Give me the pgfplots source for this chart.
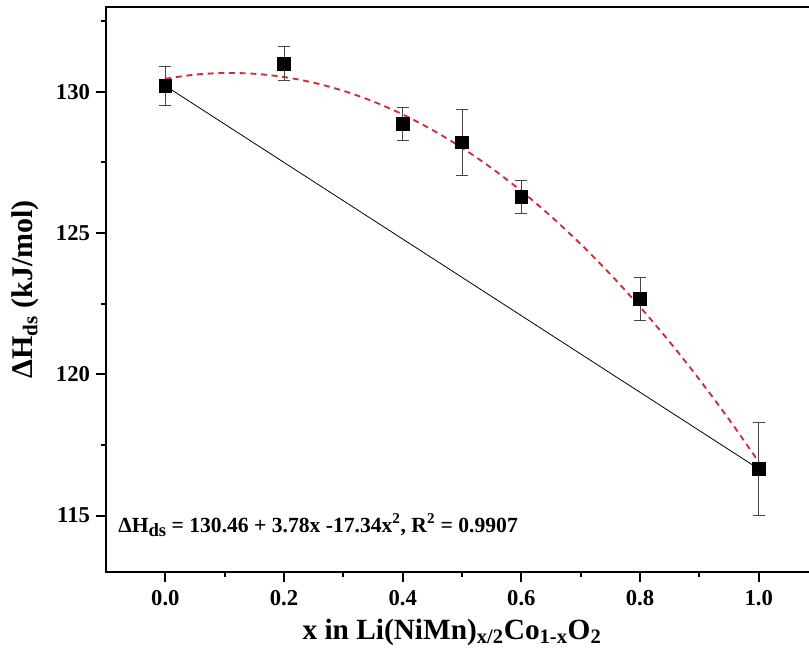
\documentclass[border=0pt]{standalone}
\usepackage{pgfplots}
\pgfplotsset{compat=1.18}
\usepackage{fontspec}
\setmainfont{Liberation Serif}
\definecolor{fitred}{RGB}{205,45,55}
\definecolor{errgray}{RGB}{70,70,70}
\begin{document}
\begin{tikzpicture}
\begin{axis}[
  at={(0,0)}, anchor=south west,
  scale only axis,
  width=534pt, height=423.75pt,
  xmin=-0.1, xmax=1.1, ymin=113, ymax=133,
  xtick={0,0.2,0.4,0.6,0.8,1.0},
  minor xtick={0.1,0.3,0.5,0.7,0.9},
  ytick={115,120,125,130},
  minor ytick={117.5,122.5,127.5,132.5},
  xticklabels={0.0,0.2,0.4,0.6,0.8,1.0},
  yticklabels={115,120,125,130},
  xtick pos=bottom, ytick pos=left,
  tick align=outside,
  major tick length=7.5pt, minor tick length=3.75pt,
  every tick/.style={black, line width=1.5pt},
  axis line style={line width=1.6pt},
  /pgf/number format/assume math mode=true,
  ticklabel style={font=\bfseries\fontsize{17}{17}\selectfont},
  xticklabel style={yshift=-3pt},
  yticklabel style={xshift=-1pt},
  clip=false,
]
% quadratic fit (red dashed)
\addplot[fitred, dashed, line width=1.4pt, dash pattern=on 4.5pt off 3.5pt, smooth] coordinates {
(0,130.46) (0.05,130.606) (0.1,130.665) (0.15,130.637) (0.2,130.522) (0.25,130.321)
(0.3,130.033) (0.35,129.659) (0.4,129.198) (0.45,128.650) (0.5,128.015) (0.55,127.294)
(0.6,126.486) (0.65,125.591) (0.7,124.609) (0.75,123.541) (0.8,122.386) (0.85,121.145)
(0.9,119.817) (0.95,118.402) (1.0,116.9)};
% straight line between end members
\addplot[black, line width=0.6pt] coordinates {(0,130.21) (1.0,116.65)};
% data with error bars
\addplot[only marks, mark=square*, mark size=4.8pt, black,
  error bars/.cd, y dir=both, y explicit,
  error bar style={errgray, line width=0.7pt},
  error mark options={errgray, line width=0.7pt, mark size=4.5pt, rotate=90}]
  table[x=x, y=y, y error=e] {
x y e
0.0 130.21 0.70
0.2 131.00 0.60
0.4 128.86 0.60
0.5 128.21 1.18
0.6 126.28 0.58
0.8 122.67 0.75
1.0 116.65 1.66
};
\node[anchor=base west, inner sep=0pt, font=\bfseries\fontsize{16.2}{16.2}\selectfont]
  at (rel axis cs:0,0) [xshift=9pt, yshift=30pt]
  {ΔH\raisebox{-0.45ex}{\fontsize{14}{14}\selectfont ds} = 130.46 + 3.78x -17.34x\textsuperscript{2}, R\textsuperscript{2} = 0.9907};
\node[xshift=-60.75pt, rotate=90, anchor=center, inner sep=0pt, font=\bfseries\fontsize{22.5}{22.5}\selectfont]
  at (rel axis cs:0,0.5)
  {ΔH\textsubscript{ds} (kJ/mol)};
\node[xshift=-7.5pt, yshift=-50.5pt, anchor=base, inner sep=0pt, font=\bfseries\fontsize{22}{22}\selectfont]
  at (rel axis cs:0.5,0)
  {x in Li(NiMn)\textsubscript{x/2}Co\textsubscript{1-x}O\textsubscript{2}};
\end{axis}
\pgfresetboundingbox
\path[use as bounding box] (-79.5pt,-57.75pt) rectangle (527.25pt,429pt);
\end{tikzpicture}
\end{document}
